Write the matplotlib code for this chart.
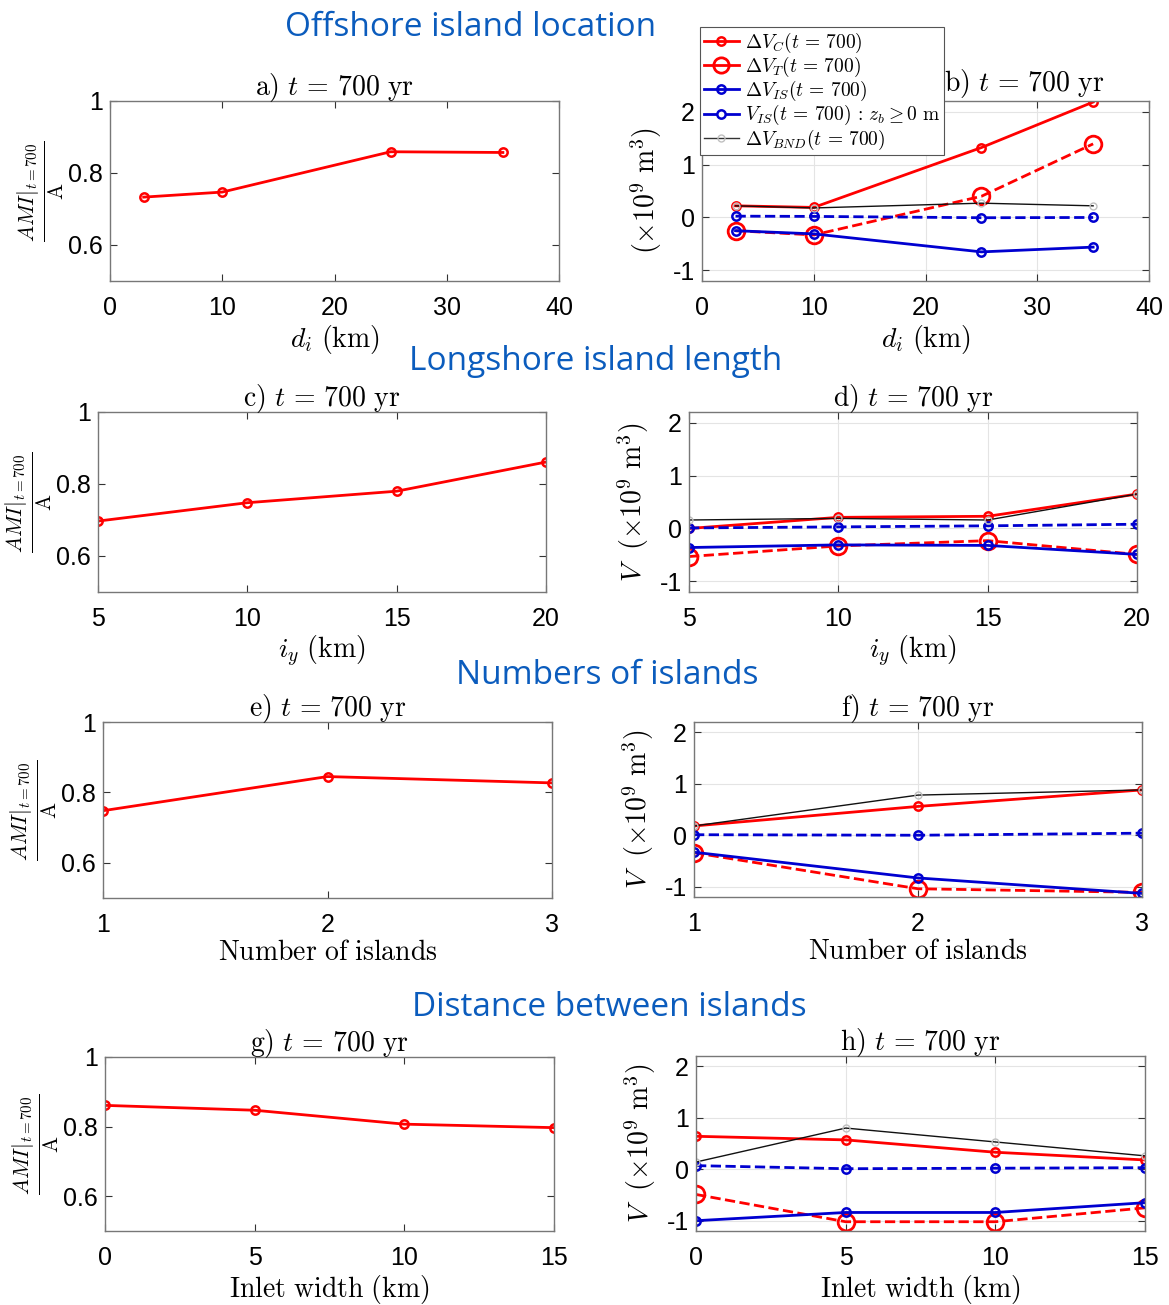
import matplotlib
matplotlib.use('Agg')
import matplotlib.pyplot as plt
from matplotlib.lines import Line2D

plt.rcParams['mathtext.fontset'] = 'cm'
plt.rcParams['font.family'] = ['Liberation Sans', 'DejaVu Sans']
plt.rcParams['axes.unicode_minus'] = False

# ---- data ----
di = [3, 10, 25, 35]
ami_di = [0.733, 0.747, 0.859, 0.857]
dvc_di = [0.22, 0.19, 1.32, 2.18]
dvt_di = [-0.25, -0.33, 0.40, 1.39]
dvis_di = [-0.25, -0.31, -0.65, -0.56]
vis_di = [0.025, 0.02, -0.005, 0.0]
bnd_di = [0.22, 0.18, 0.27, 0.22]

iy = [5, 10, 15, 20]
ami_iy = [0.697, 0.748, 0.780, 0.861]
dvc_iy = [0.0, 0.21, 0.23, 0.65]
dvt_iy = [-0.53, -0.33, -0.23, -0.49]
dvis_iy = [-0.36, -0.31, -0.32, -0.49]
vis_iy = [0.01, 0.03, 0.05, 0.08]
bnd_iy = [0.16, 0.19, 0.16, 0.65]

n_isl = [1, 2, 3]
ami_n = [0.748, 0.845, 0.827]
dvc_n = [0.18, 0.56, 0.88]
dvt_n = [-0.34, -1.04, -1.11]
dvis_n = [-0.33, -0.83, -1.13]
vis_n = [0.01, 0.0, 0.04]
bnd_n = [0.18, 0.78, 0.88]

inlet = [0, 5, 10, 15]
ami_w = [0.861, 0.847, 0.807, 0.797]
dvc_w = [0.64, 0.57, 0.33, 0.18]
dvt_w = [-0.49, -1.02, -1.02, -0.75]
dvis_w = [-1.0, -0.84, -0.84, -0.65]
vis_w = [0.07, 0.01, 0.02, 0.03]
bnd_w = [0.14, 0.80, 0.53, 0.26]

sections = ['Offshore island location', 'Longshore island length',
            'Numbers of islands', 'Distance between islands']
left_yticks = [0.6, 0.8, 1.0]
left_yticklabels = ['0.6', '0.8', '1']
right_yticks = [-1, 0, 1, 2]

W, H = 1169, 1305
fig = plt.figure(figsize=(W / 100, H / 100), dpi=100)


def box(x0, y0, x1, y1):
    return [x0 / W, 1 - y1 / H, (x1 - x0) / W, (y1 - y0) / H]


RED = '#ff0000'
BLUE = '#0000d0'
SEC = '#0b5cbd'
SPINE = '#777777'


def style(ax, grid):
    for s in ax.spines.values():
        s.set_color(SPINE)
        s.set_linewidth(1.0)
    ax.tick_params(direction='in', top=True, right=True, length=5,
                   width=0.8, color='#333333', labelsize=18)
    ax.tick_params(axis='x', pad=11)
    ax.tick_params(axis='y', pad=5)
    if grid:
        ax.grid(True, color='#e4e4e4', linewidth=0.8)
        ax.set_axisbelow(True)


def title_of(letter):
    return r'$\mathrm{%s)}\ t\, =\, 700\ \mathrm{yr}$' % letter


def left_panel(rect, x, y, letter, xlabel, xlim, xticks):
    ax = fig.add_axes(box(*rect))
    ax.plot(x, y, '-o', color=RED, lw=2, ms=6, mfc='none', mew=1.8)
    ax.set_xlim(xlim)
    ax.set_ylim(0.5, 1.0)
    ax.set_xticks(xticks)
    ax.set_yticks(left_yticks)
    ax.set_yticklabels(left_yticklabels)
    style(ax, False)
    ax.set_title(title_of(letter), fontsize=20, pad=4)
    ax.set_xlabel(xlabel, fontsize=20, labelpad=2)
    ax.set_ylabel(r'$\frac{AMI|_{t=700}}{\mathrm{A}}$', fontsize=22)
    ax.yaxis.set_label_coords(-0.095, 0.5)
    return ax


def right_panel(rect, x, vc, vt, vis_d, vis0, bnd, letter, xlabel, xlim, xticks,
                ylab, tx=0.5, tpad=4):
    ax = fig.add_axes(box(*rect))
    ax.plot(x, vc, '-o', color=RED, lw=2, ms=6, mfc='none', mew=1.8)
    ax.plot(x, vt, '--o', color=RED, lw=2, ms=12, mfc='none', mew=2)
    ax.plot(x, vis_d, '-o', color=BLUE, lw=2, ms=6, mfc='none', mew=1.8)
    ax.plot(x, vis0, '--o', color=BLUE, lw=2, ms=6, mfc='none', mew=1.8)
    ax.plot(x, bnd, '-o', color='#111111', lw=1, ms=5, mfc='none',
            mec='#c0c0c0', mew=1)
    ax.set_xlim(xlim)
    ax.set_ylim(-1.2, 2.2)
    ax.set_xticks(xticks)
    ax.set_yticks(right_yticks)
    style(ax, True)
    ax.set_title(title_of(letter), fontsize=20, pad=tpad, x=tx)
    ax.set_xlabel(xlabel, fontsize=20, labelpad=2)
    ax.set_ylabel(ylab, fontsize=20)
    ax.yaxis.set_label_coords(-0.085, 0.5)
    return ax


vlab = r'$V\ \ (\times 10^9\ \mathrm{m}^3)$'

left_panel((110, 101, 559, 281), di, ami_di, 'a', r'$d_i\ \mathrm{(km)}$', (0, 40), [0, 10, 20, 30, 40])
right_panel((702, 101, 1149, 281), di, dvc_di, dvt_di, dvis_di, vis_di, bnd_di, 'b',
            r'$d_i\ \mathrm{(km)}$', (0, 40), [0, 10, 20, 30, 40],
            r'$(\times 10^9\ \mathrm{m}^3)$', tx=0.72, tpad=7)

left_panel((98, 412, 546, 592), iy, ami_iy, 'c', r'$i_y\ \mathrm{(km)}$', (5, 20), [5, 10, 15, 20])
right_panel((689, 412, 1137, 592), iy, dvc_iy, dvt_iy, dvis_iy, vis_iy, bnd_iy, 'd',
            r'$i_y\ \mathrm{(km)}$', (5, 20), [5, 10, 15, 20], vlab)

left_panel((103, 722, 552, 898), n_isl, ami_n, 'e', r'$\mathrm{Number\ of\ islands}$', (1, 3), [1, 2, 3])
right_panel((694, 722, 1142, 897), n_isl, dvc_n, dvt_n, dvis_n, vis_n, bnd_n, 'f',
            r'$\mathrm{Number\ of\ islands}$', (1, 3), [1, 2, 3], vlab)

left_panel((105, 1057, 554, 1231), inlet, ami_w, 'g', r'$\mathrm{Inlet\ width\ (km)}$', (0, 15), [0, 5, 10, 15])
right_panel((696, 1056, 1145, 1231), inlet, dvc_w, dvt_w, dvis_w, vis_w, bnd_w, 'h',
            r'$\mathrm{Inlet\ width\ (km)}$', (0, 15), [0, 5, 10, 15], vlab)

# section headings
sec_pos = [(471, 28), (596, 362), (607, 676), (609, 1008)]
for txt, (sx, sy) in zip(sections, sec_pos):
    fig.text(sx / W, 1 - sy / H, txt, ha='center', va='center', color=SEC,
             fontsize=24, family=['Open Sans', 'DejaVu Sans'])

# legend for the volume panels
handles = [
    Line2D([], [], color=RED, lw=2, marker='o', ms=6, mfc='none', mew=1.8),
    Line2D([], [], color=RED, lw=2, marker='o', ms=11, mfc='none', mew=2),
    Line2D([], [], color=BLUE, lw=2, marker='o', ms=6, mfc='none', mew=1.8),
    Line2D([], [], color=BLUE, lw=2, marker='o', ms=6, mfc='white', mew=1.8),
    Line2D([], [], color='#333333', lw=1, marker='o', ms=5, mfc='none', mec='#c0c0c0', mew=1),
]
labels = [r'$\Delta V_C(t\, =\, 700)$', r'$\Delta V_T(t\, =\, 700)$',
          r'$\Delta V_{IS}(t\, =\, 700)$',
          r'$V_{IS}(t\, =\, 700)\, :\, z_b \geq 0\ \mathrm{m}$',
          r'$\Delta V_{BND}(t\, =\, 700)$']
leg = fig.legend(handles, labels, loc='upper left',
                 bbox_to_anchor=(700 / W, 1 - 27 / H), fontsize=14,
                 frameon=True, fancybox=False, framealpha=1, edgecolor='#555555',
                 handlelength=1.8, handletextpad=0.3, labelspacing=0.0,
                 borderpad=0.2, borderaxespad=0)
leg.get_frame().set_linewidth(0.8)

fig.savefig('out.png', dpi=100)
